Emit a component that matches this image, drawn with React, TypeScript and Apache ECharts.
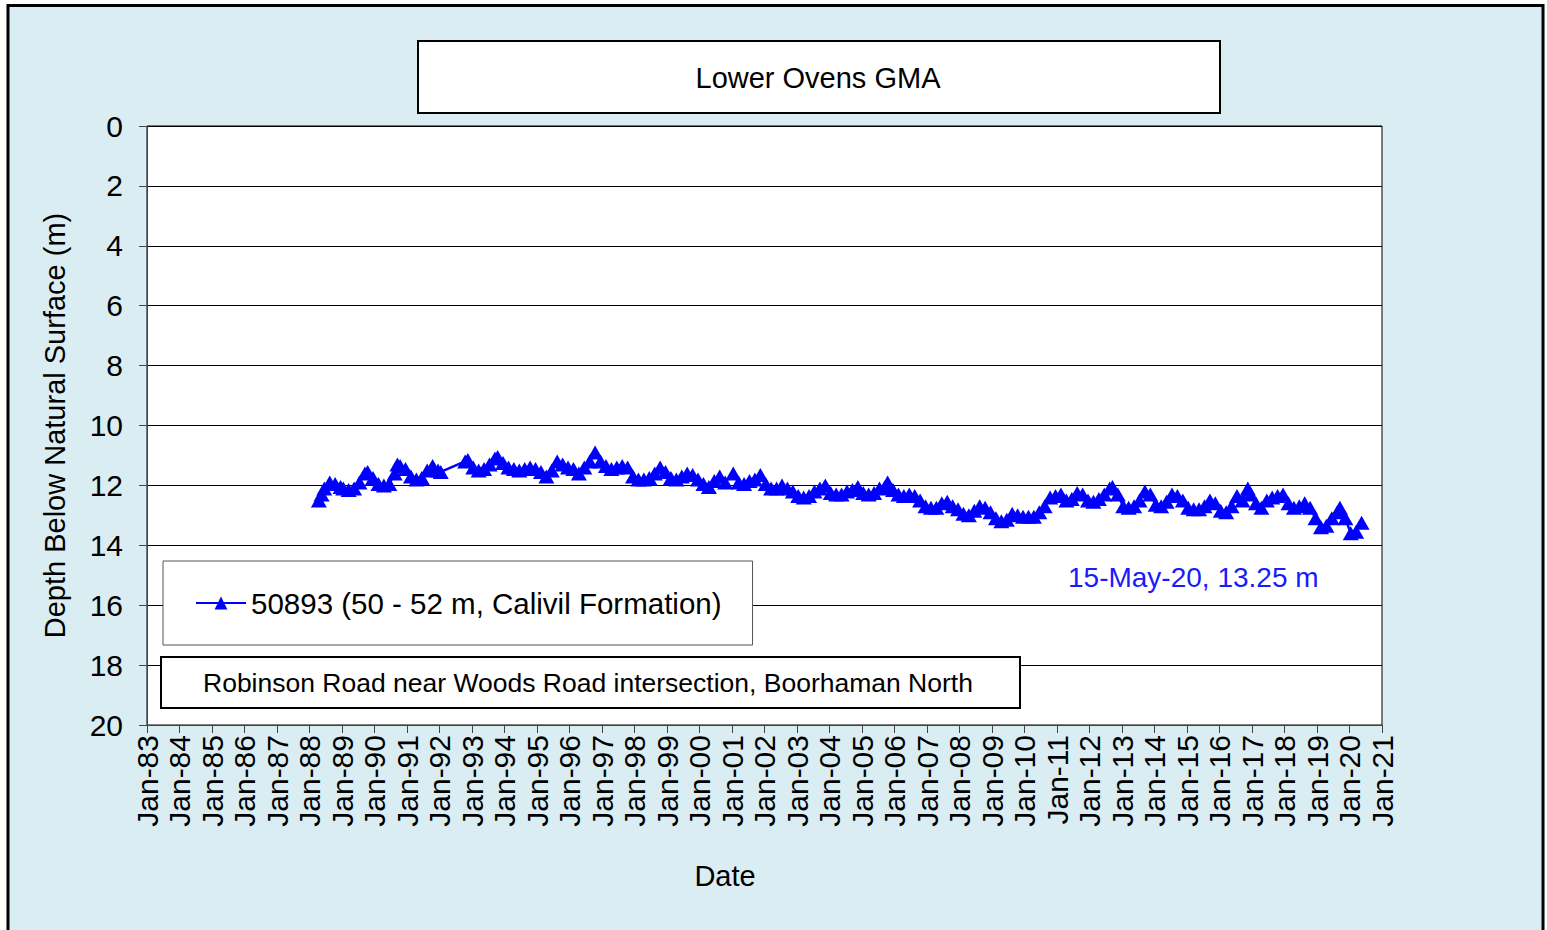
import React, { useEffect, useRef } from "react";
import * as echarts from "echarts";

const chartTitle = "Lower Ovens GMA";
const seriesName = "50893 (50 - 52 m, Calivil Formation)";
const siteNote = "Robinson Road near Woods Road intersection, Boorhaman North";
const lastReading = "15-May-20, 13.25 m";
const xAxisName = "Date";
const yAxisName = "Depth Below Natural Surface (m)";

const yearMin = 1983;
const yearMax = 2021;
const depthMin = 0;
const depthMax = 20;
const depthStep = 2;

// observation months (YYYY-MM) and depth below natural surface (m)
const obsDates: string[] = [
  "1988-04", "1988-05", "1988-06", "1988-08", "1988-10", "1988-12",
  "1989-01", "1989-03", "1989-05", "1989-07", "1989-09", "1989-10", "1989-12",
  "1990-02", "1990-04", "1990-06", "1990-08", "1990-09", "1990-10", "1990-12",
  "1991-02", "1991-04", "1991-06", "1991-08", "1991-10", "1991-12",
  "1992-01", "1992-10", "1992-11",
  "1993-01", "1993-03", "1993-05", "1993-07", "1993-09", "1993-10", "1993-12",
  "1994-02", "1994-04", "1994-06", "1994-08", "1994-10", "1994-12",
  "1995-02", "1995-04", "1995-06", "1995-08", "1995-10", "1995-12",
  "1996-02", "1996-04", "1996-06", "1996-08", "1996-10", "1996-12",
  "1997-02", "1997-04", "1997-06", "1997-08", "1997-10", "1997-12",
  "1998-02", "1998-04", "1998-06", "1998-08", "1998-10", "1998-12",
  "1999-02", "1999-04", "1999-06", "1999-08", "1999-10", "1999-12",
  "2000-02", "2000-04", "2000-06", "2000-08", "2000-10",
  "2001-01", "2001-03", "2001-05", "2001-07", "2001-09", "2001-11",
  "2002-01", "2002-03", "2002-05", "2002-07", "2002-09", "2002-11",
  "2003-01", "2003-03", "2003-05", "2003-07", "2003-09", "2003-11",
  "2004-01", "2004-03", "2004-05", "2004-07", "2004-09", "2004-11",
  "2005-01", "2005-03", "2005-05", "2005-07", "2005-09", "2005-10", "2005-12",
  "2006-02", "2006-04", "2006-06", "2006-08", "2006-10", "2006-12",
  "2007-02", "2007-04", "2007-06", "2007-08", "2007-10", "2007-12",
  "2008-02", "2008-04", "2008-06", "2008-08", "2008-10", "2008-12",
  "2009-02", "2009-04", "2009-06", "2009-08", "2009-10", "2009-12",
  "2010-02", "2010-04", "2010-06", "2010-08", "2010-10", "2010-12",
  "2011-02", "2011-04", "2011-06", "2011-08", "2011-10", "2011-12",
  "2012-02", "2012-04", "2012-06", "2012-08", "2012-09", "2012-11",
  "2013-01", "2013-03", "2013-05", "2013-07", "2013-09", "2013-11",
  "2014-01", "2014-03", "2014-05", "2014-07", "2014-09", "2014-11",
  "2015-01", "2015-03", "2015-05", "2015-07", "2015-09", "2015-11",
  "2016-01", "2016-03", "2016-05", "2016-07", "2016-09", "2016-11", "2016-12",
  "2017-02", "2017-04", "2017-06", "2017-08", "2017-10", "2017-12",
  "2018-02", "2018-04", "2018-06", "2018-08", "2018-10", "2018-12",
  "2019-02", "2019-04", "2019-06", "2019-08", "2019-09", "2019-11",
  "2020-01", "2020-03", "2020-05",
];

const depths: number[] = [
  12.5, 12.3, 12.1, 11.9, 11.95, 12.05,
  12.1, 12.15, 12.1, 11.9, 11.6, 11.55, 11.75,
  11.95, 12.0, 11.95, 11.6, 11.3, 11.35, 11.45,
  11.7, 11.8, 11.75, 11.5, 11.35, 11.5,
  11.55, 11.2, 11.15,
  11.4, 11.5, 11.45, 11.3, 11.1, 11.05, 11.25,
  11.4, 11.45, 11.5, 11.45, 11.4, 11.45,
  11.55, 11.7, 11.5, 11.2, 11.3, 11.4,
  11.45, 11.6, 11.4, 11.2, 10.9, 11.2,
  11.35, 11.45, 11.4, 11.35, 11.4, 11.7,
  11.8, 11.8, 11.75, 11.6, 11.4, 11.55,
  11.75, 11.8, 11.7, 11.6, 11.65, 11.8,
  11.95, 12.05, 11.85, 11.7, 11.9,
  11.6, 11.9, 11.95, 11.85, 11.8, 11.65,
  11.95, 12.1, 12.1, 12.0, 12.1, 12.2,
  12.35, 12.4, 12.35, 12.2, 12.1, 12.0,
  12.25, 12.3, 12.3, 12.2, 12.15, 12.05,
  12.25, 12.3, 12.25, 12.1, 12.05, 11.9, 12.15,
  12.3, 12.35, 12.3, 12.35, 12.5, 12.7,
  12.75, 12.75, 12.6, 12.55, 12.7, 12.8,
  12.95, 13.0, 12.85, 12.7, 12.75, 12.9,
  13.1, 13.2, 13.15, 12.95, 13.0, 13.05,
  13.05, 13.05, 12.9, 12.7, 12.4, 12.35,
  12.3, 12.5, 12.45, 12.25, 12.3, 12.5,
  12.55, 12.45, 12.3, 12.1, 12.05, 12.3,
  12.7, 12.75, 12.7, 12.5, 12.2, 12.3,
  12.65, 12.7, 12.55, 12.3, 12.35, 12.5,
  12.75, 12.8, 12.8, 12.7, 12.5, 12.6,
  12.85, 12.9, 12.7, 12.35, 12.5, 12.1, 12.3,
  12.6, 12.75, 12.5, 12.4, 12.35, 12.3,
  12.6, 12.75, 12.7, 12.6, 12.75, 13.1,
  13.4, 13.35, 13.1, 12.9, 12.75, 13.1,
  13.6, 13.55, 13.25,
];

const FONT = "'Liberation Sans', Arial, sans-serif";

function toDecimalYear(s: string): number {
  const [y, m] = s.split("-").map(Number);
  return y + (m - 1) / 12 + 14 / 365;
}

export default function App() {
  const ref = useRef<HTMLDivElement>(null);

  useEffect(() => {
    document.body.style.margin = "0";
    if (!ref.current) return;
    const chart = echarts.init(ref.current, undefined, { renderer: "svg" });
    const data = obsDates.map((d, i) => [toDecimalYear(d), depths[i]]);

    chart.setOption({
      animation: false,
      backgroundColor: "#DAEDF3",
      textStyle: { fontFamily: FONT },
      grid: {
        left: 147,
        top: 126,
        right: 165,
        bottom: 205,
        show: true,
        backgroundColor: "#ffffff",
        borderColor: "#000000",
        borderWidth: 1,
      },
      legend: {
        data: [seriesName],
        left: 163,
        top: 561,
        padding: [27, 31, 27, 32],
        backgroundColor: "#ffffff",
        borderColor: "#555555",
        borderWidth: 1,
        borderRadius: 0,
        itemWidth: 50,
        itemHeight: 16,
        textStyle: { fontSize: 29.5, color: "#000", fontFamily: FONT },
      },
      xAxis: {
        type: "value",
        min: yearMin,
        max: yearMax,
        interval: 1,
        axisLine: { show: true, onZero: false, lineStyle: { color: "#444", width: 1 } },
        axisTick: { show: true, length: 8, lineStyle: { color: "#444" } },
        splitLine: { show: false },
        axisLabel: {
          rotate: 90,
          margin: 10,
          fontSize: 30,
          color: "#000",
          fontFamily: FONT,
          formatter: (v: number) => "Jan-" + String(Math.round(v) % 100).padStart(2, "0"),
        },
      },
      yAxis: {
        type: "value",
        inverse: true,
        min: depthMin,
        max: depthMax,
        interval: depthStep,
        name: yAxisName,
        nameLocation: "middle",
        nameGap: 78,
        nameTextStyle: { fontSize: 29, color: "#000", fontFamily: FONT },
        axisLine: { show: true, onZero: false, lineStyle: { color: "#444", width: 1 } },
        axisTick: { show: true, length: 8, lineStyle: { color: "#444" } },
        splitLine: { show: true, lineStyle: { color: "#000", width: 1 } },
        axisLabel: { margin: 24, fontSize: 30, color: "#000", fontFamily: FONT },
      },
      series: [
        {
          name: seriesName,
          type: "line",
          data,
          color: "#0000FF",
          lineStyle: { color: "#0000FF", width: 2.5 },
          itemStyle: { color: "#0000FF" },
          symbol: "triangle",
          symbolSize: [16, 14],
          showSymbol: true,
          z: 5,
        },
      ],
      graphic: [
        { type: "rect", silent: true, z: 100, shape: { x: 0, y: 0, width: 1547, height: 4 }, style: { fill: "#ffffff" } },
        { type: "rect", silent: true, z: 100, shape: { x: 0, y: 0, width: 6.5, height: 930 }, style: { fill: "#ffffff" } },
        { type: "rect", silent: true, z: 100, shape: { x: 1544.5, y: 0, width: 3, height: 930 }, style: { fill: "#ffffff" } },
        { type: "rect", silent: true, z: 101, shape: { x: 8, y: 5.5, width: 1535, height: 1000 }, style: { fill: "none", stroke: "#000", lineWidth: 3 } },
        { type: "rect", silent: true, z: 101, shape: { x: 418, y: 41, width: 802, height: 72 }, style: { fill: "#ffffff", stroke: "#000", lineWidth: 2 } },
        { type: "text", silent: true, z: 102, x: 818, y: 78, style: { text: chartTitle, font: `29px ${FONT}`, fill: "#000", textAlign: "center", textVerticalAlign: "middle" } },
        { type: "rect", silent: true, z: 101, shape: { x: 161, y: 657, width: 859, height: 51 }, style: { fill: "#ffffff", stroke: "#000", lineWidth: 2 } },
        { type: "text", silent: true, z: 102, x: 203, y: 683, style: { text: siteNote, font: `26.5px ${FONT}`, fill: "#000", textAlign: "left", textVerticalAlign: "middle" } },
        { type: "text", silent: true, z: 102, x: 1068, y: 577, style: { text: lastReading, font: `28px ${FONT}`, fill: "#1a1aff", textAlign: "left", textVerticalAlign: "middle" } },
        { type: "text", silent: true, z: 102, x: 725, y: 876, style: { text: xAxisName, font: `29px ${FONT}`, fill: "#000", textAlign: "center", textVerticalAlign: "middle" } },
      ],
    });

    return () => chart.dispose();
  }, []);

  return <div ref={ref} style={{ width: 1547, height: 930 }} />;
}
